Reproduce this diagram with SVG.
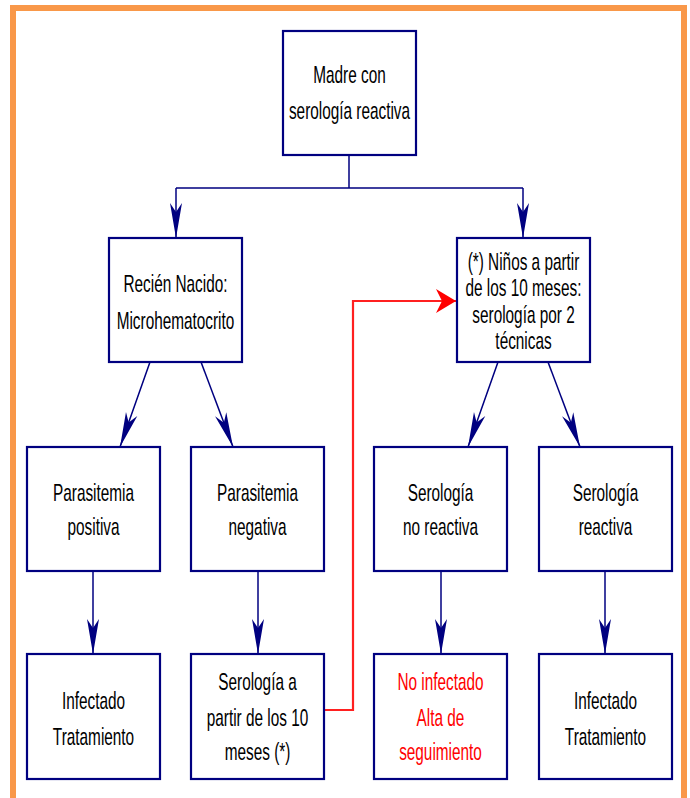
<svg xmlns="http://www.w3.org/2000/svg" width="690" height="798" viewBox="0 0 690 798">
<style>
.box{fill:#fff;stroke:#000080;stroke-width:2.2}
.t{font-family:"Liberation Sans",Arial,sans-serif;font-size:24px;text-anchor:middle;fill:#000}
.r{fill:#ff0000}
.c{fill:none;stroke:#000080;stroke-width:1.5}
.rc{fill:none;stroke:#ff2020;stroke-width:2.2}
</style>
<defs>
<marker id="ah" markerUnits="userSpaceOnUse" viewBox="-36 -7 37 14" refX="0" refY="0" markerWidth="37" markerHeight="14" orient="auto">
<path d="M0,0 L-35,-6 L-26,0 L-35,6 Z" fill="#000080"/>
</marker>
<marker id="rh" markerUnits="userSpaceOnUse" viewBox="-21 -13 22 26" refX="0" refY="0" markerWidth="22" markerHeight="26" orient="auto">
<path d="M0,0 L-20,-12 L-14,0 L-20,12 Z" fill="#ff0000"/>
</marker>
</defs>
<rect x="0" y="0" width="690" height="798" fill="#fff"/>
<rect x="13" y="8" width="671" height="810" fill="none" stroke="#f99849" stroke-width="6"/>
<g id="connectors">
<path class="c" d="M349,155 V188 M176,188 H523"/>
<path class="c" d="M176,188 V238" marker-end="url(#ah)"/>
<path class="c" d="M523,188 V238" marker-end="url(#ah)"/>
<path class="c" d="M150,362 L120,447" marker-end="url(#ah)"/>
<path class="c" d="M201,362 L233,447" marker-end="url(#ah)"/>
<path class="c" d="M498,362 L468,447" marker-end="url(#ah)"/>
<path class="c" d="M548,362 L580,447" marker-end="url(#ah)"/>
<path class="c" d="M93,571 V654" marker-end="url(#ah)"/>
<path class="c" d="M258,571 V654" marker-end="url(#ah)"/>
<path class="c" d="M441,571 V654" marker-end="url(#ah)"/>
<path class="c" d="M605,571 V654" marker-end="url(#ah)"/>
<path class="rc" d="M324,710 H353 V301 H456" marker-end="url(#rh)"/>
</g>
<g id="madre">
<rect class="box" x="283" y="31" width="133" height="124"/>
<text class="t" transform="matrix(0.64 0 0 1 349.5 0)"><tspan x="0" y="83">Madre con</tspan><tspan x="0" y="119">serología reactiva</tspan></text>
</g>
<g id="recien">
<rect class="box" x="109" y="238" width="133" height="124"/>
<text class="t" transform="matrix(0.64 0 0 1 175.5 0)"><tspan x="0" y="292">Recién Nacido:</tspan><tspan x="0" y="329">Microhematocrito</tspan></text>
</g>
<g id="ninos">
<rect class="box" x="457" y="238" width="133" height="124"/>
<text class="t" transform="matrix(0.64 0 0 1 523.5 0)"><tspan x="0" y="270">(*) Niños a partir</tspan><tspan x="0" y="296">de los 10 meses:</tspan><tspan x="0" y="323">serología por 2</tspan><tspan x="0" y="349">técnicas</tspan></text>
</g>
<g id="par-pos">
<rect class="box" x="27" y="447" width="133" height="124"/>
<text class="t" transform="matrix(0.64 0 0 1 93.5 0)"><tspan x="0" y="501">Parasitemia</tspan><tspan x="0" y="535">positiva</tspan></text>
</g>
<g id="par-neg">
<rect class="box" x="191" y="447" width="133" height="124"/>
<text class="t" transform="matrix(0.64 0 0 1 257.5 0)"><tspan x="0" y="501">Parasitemia</tspan><tspan x="0" y="535">negativa</tspan></text>
</g>
<g id="ser-noreac">
<rect class="box" x="374" y="447" width="133" height="124"/>
<text class="t" transform="matrix(0.64 0 0 1 440.5 0)"><tspan x="0" y="501">Serología</tspan><tspan x="0" y="535">no reactiva</tspan></text>
</g>
<g id="ser-reac">
<rect class="box" x="539" y="447" width="133" height="124"/>
<text class="t" transform="matrix(0.64 0 0 1 605.5 0)"><tspan x="0" y="501">Serología</tspan><tspan x="0" y="535">reactiva</tspan></text>
</g>
<g id="infectado1">
<rect class="box" x="27" y="654" width="133" height="125"/>
<text class="t" transform="matrix(0.64 0 0 1 93.5 0)"><tspan x="0" y="709">Infectado</tspan><tspan x="0" y="745">Tratamiento</tspan></text>
</g>
<g id="serologia10">
<rect class="box" x="191" y="654" width="133" height="125"/>
<text class="t" transform="matrix(0.64 0 0 1 257.5 0)"><tspan x="0" y="690">Serología a</tspan><tspan x="0" y="726">partir de los 10</tspan><tspan x="0" y="760">meses (*)</tspan></text>
</g>
<g id="noinfectado">
<rect class="box" x="374" y="654" width="133" height="125"/>
<text class="t r" transform="matrix(0.64 0 0 1 440.5 0)"><tspan x="0" y="690">No infectado</tspan><tspan x="0" y="726">Alta de</tspan><tspan x="0" y="760">seguimiento</tspan></text>
</g>
<g id="infectado2">
<rect class="box" x="539" y="654" width="133" height="125"/>
<text class="t" transform="matrix(0.64 0 0 1 605.5 0)"><tspan x="0" y="709">Infectado</tspan><tspan x="0" y="745">Tratamiento</tspan></text>
</g>
</svg>
